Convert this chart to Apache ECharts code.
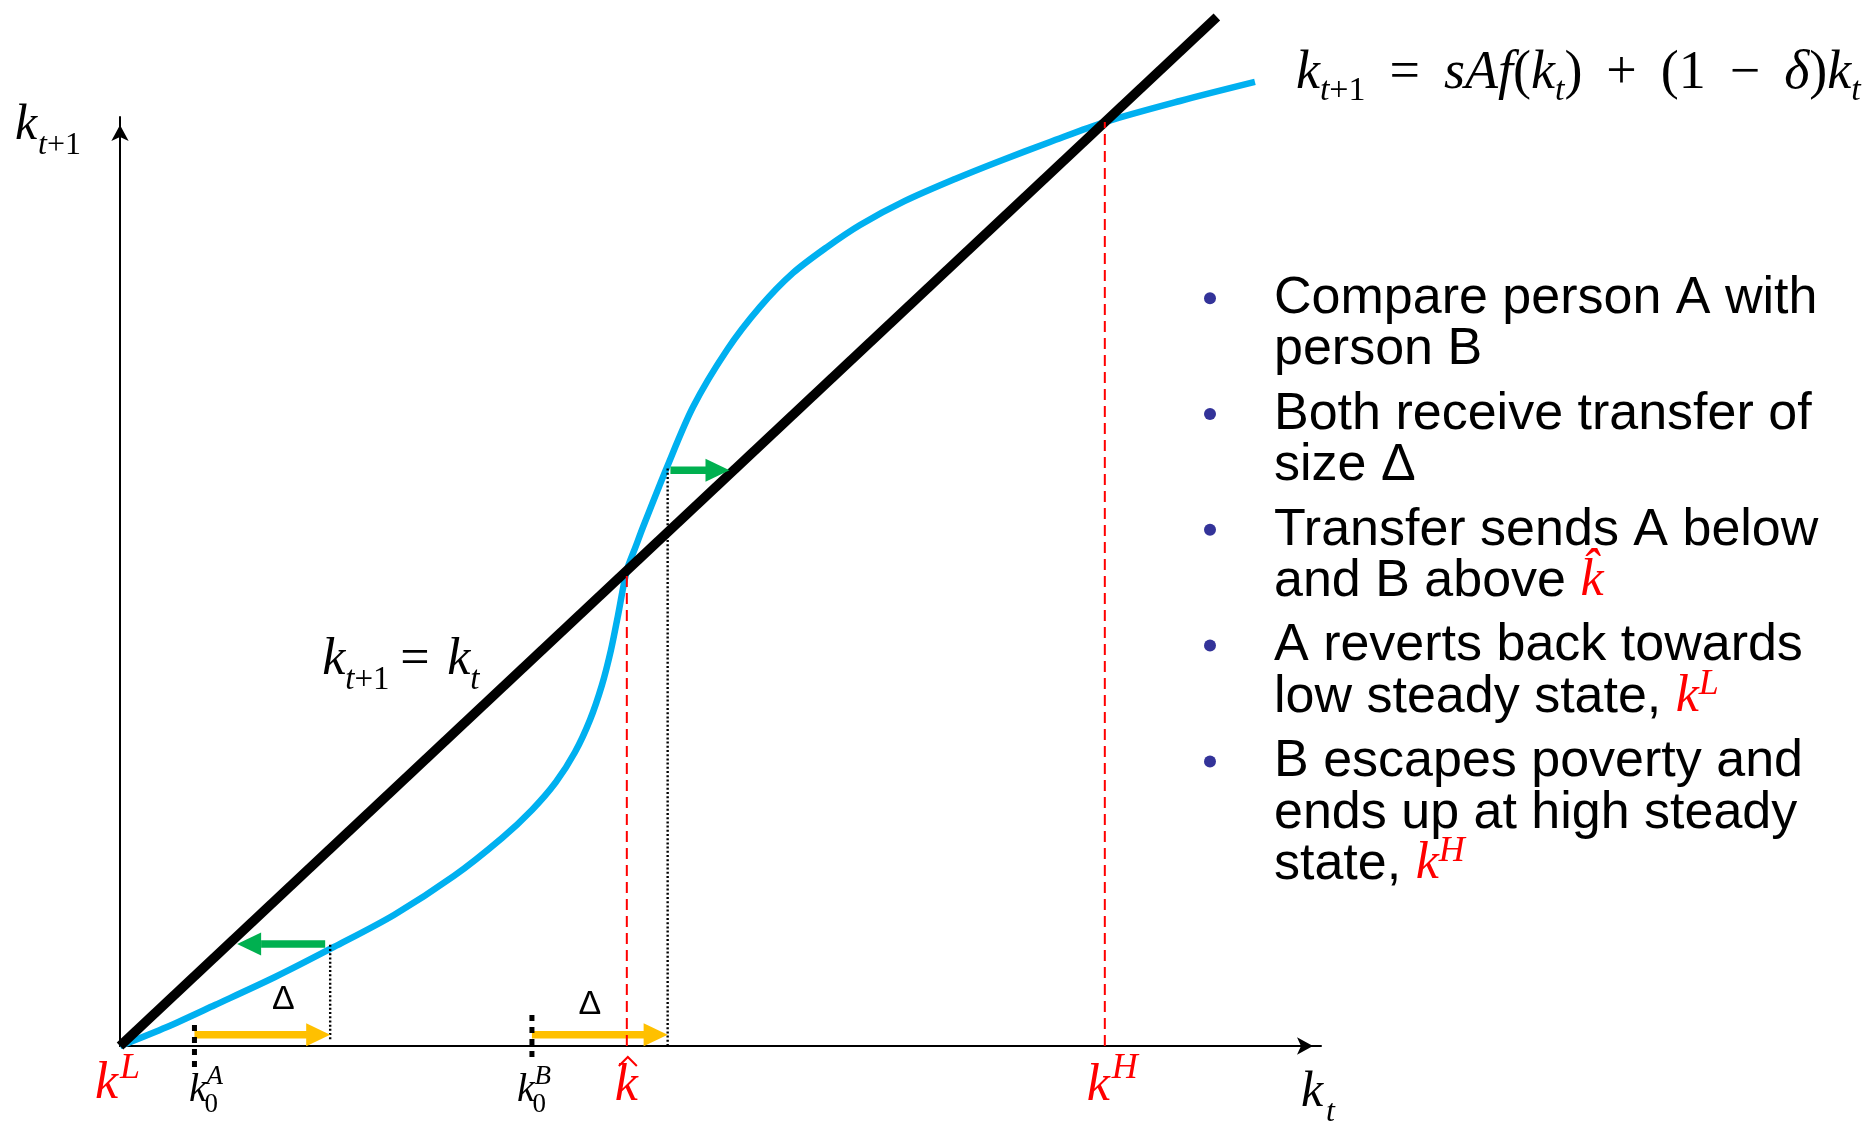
<!DOCTYPE html>
<html>
<head>
<meta charset="utf-8">
<script src="https://cdn.jsdelivr.net/npm/echarts@6.0.0/dist/echarts.min.js"></script>
<style>
html,body{margin:0;padding:0;background:#ffffff;}
#chart{width:1872px;height:1126px;}
</style>
</head>
<body>
<div id="chart"></div>
<script>
// ================= DATA =================
// capital levels on the k_t axis
const kL = 0;
const k0A = 6.2;
const k0B = 34.3;
const kHat = 42.2;
const kH = 82.0;
const transfer = 11.3;          // size of the transfer, Delta
const xMax = 100;
const yMax = 82.45;
const diagonalEnd = 91.33;      // end of the k_{t+1} = k_t line
// transition curve k_{t+1} = sAf(k_t) + (1 - delta) k_t
const curveX = [0, 3.91, 7.91, 12.91, 17.82, 22.81, 27.81, 31.81, 34.30, 36.30, 37.89, 39.13, 40.13, 40.88, 41.47, 42.2, 42.96, 43.55, 45.55, 47.71, 50.54, 53.29, 56.04, 58.87, 61.62, 65.36, 69.53, 73.27, 77.44, 82.0, 88.26, 94.5];
const curveY = [0, 1.69, 3.64, 6.12, 8.79, 11.63, 15.09, 18.46, 20.95, 23.43, 26.09, 28.93, 32.04, 35.15, 38.25, 42.2, 44.38, 46.06, 51.39, 56.71, 61.77, 65.59, 68.61, 70.91, 72.87, 75.0, 76.95, 78.55, 80.23, 82.0, 83.87, 85.56];
// transfer arrows height
const transferArrowY = 1.0;
// next-period arrows: [fromX, y, toX, y]
const greenArrowA = [17.0, 9.05, 9.75, 9.05];
const greenArrowB = [45.83, 51.1, 50.75, 51.1];
// dotted guides after transfer [bottom, top]
const guideA = [0.6, 9.0];
const guideB = [0, 51.3];
// start marks [bottom, top]
const markA = [-1.86, 1.86];
const markB = [-0.98, 2.93];
// bullet text
const bulletLines = [
  ['Compare person A with', 'person B'],
  ['Both receive transfer of', 'size Δ'],
  ['Transfer sends A below', 'and B above {m|k\u0302}'],
  ['A reverts back towards', 'low steady state, {m|k}{sup|L}'],
  ['B escapes poverty and', 'ends up at high steady', 'state, {m|k}{sup|H}']
];

// ================= STYLE =================
const RED = '#FF0000', BLACK = '#000000', BLUE = '#00B0F0', YELLOW = '#FFC000', GREEN = '#00B050';
const SERIF = '"Liberation Serif","Times New Roman",serif';
const SANS = '"Liberation Sans",Arial,sans-serif';

const kA1 = k0A + transfer;
const kB1 = k0B + transfer;

// label anchors (data coords)
const labelAnchors = [
  [kL, 0], [k0A, 0], [k0B, 0], [kHat, 0], [kH, 0],
  [xMax, 0], [0, yMax], [32, 32],
  [curveX[curveX.length - 1], curveY[curveY.length - 1]],
  [k0A, 0], [k0B, 0]
];

const eqRich = {
  i: {fontFamily: SERIF, fontStyle: 'italic', fontSize: 54, fill: BLACK},
  r: {fontFamily: SERIF, fontSize: 54, fill: BLACK},
  op: {fontFamily: SERIF, fontSize: 54, fill: BLACK, padding: [0, 24, 0, 24]},
  si: {fontFamily: SERIF, fontStyle: 'italic', fontSize: 34, fill: BLACK, padding: [34, 0, 0, 0]},
  sr: {fontFamily: SERIF, fontSize: 34, fill: BLACK, padding: [34, 0, 0, 0]}
};
const subRich = (size) => ({
  i: {fontFamily: SERIF, fontStyle: 'italic', fontSize: size, fill: BLACK},
  r: {fontFamily: SERIF, fontSize: size, fill: BLACK}
});

// pixel layout of each label around its anchor
const labelPieces = [
  [{t: 'k', dx: -25, dy: 38, fs: 52, i: 1, c: RED}, {t: 'L', dx: 0, dy: 23, fs: 36, i: 1, c: RED}],
  [{t: 'k', dx: -5.5, dy: 44, fs: 40, i: 1}, {t: 'A', dx: 12, dy: 31, fs: 27, i: 1}, {t: '0', dx: 10, dy: 59, fs: 27}],
  [{t: 'k', dx: -15, dy: 44, fs: 40, i: 1}, {t: 'B', dx: 2.5, dy: 31, fs: 27, i: 1}, {t: '0', dx: 0.5, dy: 59, fs: 27}],
  [{t: 'k', dx: -12, dy: 40, fs: 52, i: 1, c: RED}, {hat: [[-8, 20], [1, 11], [10, 20]], c: RED}],
  [{t: 'k', dx: -18, dy: 40, fs: 52, i: 1, c: RED}, {t: 'H', dx: 7, dy: 23, fs: 36, i: 1, c: RED}],
  [{t: 'k', dx: -20, dy: 47, fs: 50, i: 1}, {t: 't', dx: 5, dy: 67, fs: 32, i: 1}],
  [{t: 'k', dx: -105, dy: 9, fs: 50, i: 1}, {t: '{i|t}{r|+1}', dx: -82, dy: 29, fs: 32, rich: subRich(32)}],
  [{t: 'k', dx: -182, dy: -25, fs: 52, i: 1}, {t: '{i|t}{r|+1}', dx: -159, dy: -5, fs: 33, rich: subRich(33)},
   {t: '=', dx: -104, dy: -25, fs: 52}, {t: 'k', dx: -57, dy: -25, fs: 52, i: 1}, {t: 't', dx: -34, dy: -5, fs: 33, i: 1}],
  [{t: '{i|k}{si|t}{sr|+1}{op|=}{i|sAf}{r|(}{i|k}{si|t}{r|)}{op|+}{r|(1}{op|−}{i|δ}{r|)}{i|k}{si|t}', dx: 41, dy: -8, fs: 54, rich: eqRich}],
  [{t: 'Δ', dx: 89, dy: -46, fs: 34, f: SANS, a: 'center'}],
  [{t: 'Δ', dx: 58, dy: -41, fs: 34, f: SANS, a: 'center'}]
];

function renderLabel(params, api) {
  const p = api.coord([api.value(0), api.value(1)]);
  const spec = labelPieces[params.dataIndex];
  return {
    type: 'group',
    children: spec.map(s => {
      if (s.hat) {
        return {type: 'polyline', shape: {points: s.hat.map(q => [p[0] + q[0], p[1] + q[1]])},
                style: {stroke: s.c, lineWidth: 2, fill: 'none'}};
      }
      return {type: 'text', x: p[0] + s.dx, y: p[1] + s.dy,
              style: {text: s.t, fontFamily: s.f || SERIF, fontSize: s.fs, fontStyle: s.i ? 'italic' : 'normal',
                      fill: s.c || BLACK, align: s.a || 'left', verticalAlign: 'middle', rich: s.rich}};
    })
  };
}

function arrowRenderer(color) {
  return function (params, api) {
    const p0 = api.coord([api.value(0), api.value(1)]);
    const p1 = api.coord([api.value(2), api.value(3)]);
    const dir = p1[0] >= p0[0] ? 1 : -1;
    const headLen = 24, headH = 23, shaft = 7.5;
    const hx = p1[0] - dir * headLen;
    return {
      type: 'group',
      children: [
        {type: 'rect', shape: {x: Math.min(p0[0], hx), y: p0[1] - shaft / 2, width: Math.abs(hx - p0[0]) + 1, height: shaft}, style: {fill: color}},
        {type: 'polygon', shape: {points: [[p1[0], p1[1]], [hx, p1[1] - headH / 2], [hx, p1[1] + headH / 2]]}, style: {fill: color}}
      ]
    };
  };
}

function vline(x, y0, y1, style, z) {
  return {type: 'line', data: [[x, y0], [x, y1]], symbol: 'none', clip: false, silent: true,
          lineStyle: style, z: z};
}

const redDash = {color: RED, width: 2, type: [11, 6]};
const dotted = {color: BLACK, width: 2.4, type: [2, 2.2]};
const markStyle = {color: BLACK, width: 5, type: [6, 6]};

// bullets (text box)
const bulletRich = {
  m: {fontFamily: SERIF, fontStyle: 'italic', fontSize: 52, fill: RED},
  sup: {fontFamily: SERIF, fontStyle: 'italic', fontSize: 36, fill: RED, padding: [0, 0, 26, 0]}
};
const graphics = [];
bulletLines.forEach((para, p) => {
  const b = 316.7 + p * 115.8;
  graphics.push({type: 'circle', shape: {cx: 1210, cy: b - 18.5, r: 6}, style: {fill: '#333399'}});
  para.forEach((line, l) => {
    graphics.push({type: 'text', x: 1274, y: b + l * 51.3 - 18,
      style: {text: line, fontFamily: SANS, fontSize: 52, fill: BLACK, align: 'left', verticalAlign: 'middle', rich: bulletRich}});
  });
});

const chart = echarts.init(document.getElementById('chart'), null, {renderer: 'canvas'});
chart.setOption({
  animation: false,
  backgroundColor: '#ffffff',
  grid: {left: 120, top: 117, width: 1201, height: 929, containLabel: false, outerBoundsMode: 'none'},
  xAxis: {
    type: 'value', min: 0, max: xMax,
    axisLine: {show: true, onZero: false, symbol: ['none', 'arrow'], symbolSize: [13, 16], symbolOffset: [0, -8],
               lineStyle: {color: BLACK, width: 2}},
    axisTick: {show: false}, axisLabel: {show: false}, splitLine: {show: false}
  },
  yAxis: {
    type: 'value', min: 0, max: yMax,
    axisLine: {show: true, onZero: false, symbol: ['none', 'arrow'], symbolSize: [13, 16], symbolOffset: [0, -8],
               lineStyle: {color: BLACK, width: 2}},
    axisTick: {show: false}, axisLabel: {show: false}, splitLine: {show: false}
  },
  graphic: graphics,
  series: [
    {type: 'line', name: 'transition', data: curveX.map((x, i) => [x, curveY[i]]), smooth: 0.3,
     symbol: 'none', clip: false, silent: true, lineStyle: {color: BLUE, width: 6.5}, z: 2},
    {type: 'line', name: 'diagonal', data: [[0, 0], [diagonalEnd, diagonalEnd]], symbol: 'none', clip: false, silent: true,
     lineStyle: {color: BLACK, width: 9.5, cap: 'butt'}, z: 3},
    vline(kA1, guideA[0], guideA[1], dotted, 4),
    vline(kB1, guideB[0], guideB[1], dotted, 4),
    {type: 'custom', name: 'transfers', renderItem: arrowRenderer(YELLOW), clip: false, silent: true, z: 5,
     data: [[k0A, transferArrowY, kA1, transferArrowY], [k0B, transferArrowY, kB1, transferArrowY]]},
    vline(kHat, 0, kHat, redDash, 6),
    vline(kH, 0, kH, redDash, 6),
    {type: 'custom', name: 'dynamics', renderItem: arrowRenderer(GREEN), clip: false, silent: true, z: 6,
     data: [greenArrowA, greenArrowB]},
    vline(k0A, markA[0], markA[1], markStyle, 7),
    vline(k0B, markB[0], markB[1], markStyle, 7),
    {type: 'custom', name: 'labels', renderItem: renderLabel, clip: false, silent: true, z: 8, data: labelAnchors}
  ]
});
</script>
</body>
</html>
